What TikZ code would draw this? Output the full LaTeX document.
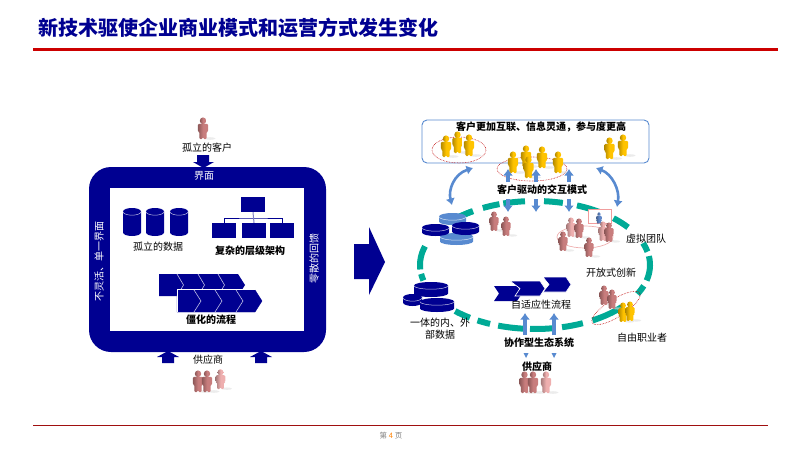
\documentclass[tikz,border=0pt]{standalone}
\usepackage{fontspec}
\usetikzlibrary{arrows.meta}
\setmainfont{Noto Sans CJK SC}
\definecolor{navy}{RGB}{0,0,145}
\definecolor{skyline}{RGB}{88,138,208}
\definecolor{ringteal}{RGB}{0,170,150}
\definecolor{headred}{HTML}{CC0000}
\definecolor{footred}{HTML}{A01010}
\definecolor{redman}{RGB}{200,125,125}
\definecolor{paleman}{RGB}{238,175,175}
\definecolor{goldman}{RGB}{255,195,0}
\definecolor{blueman}{RGB}{95,135,200}
\begin{document}
\begin{tikzpicture}[x=1pt,y=-1pt]
  \useasboundingbox (0,0) rectangle (800,450);

  \tikzset{
    label/.style={font=\fontsize{10}{12}\selectfont,inner sep=0pt,align=center},
    boldlabel/.style={label,font=\fontsize{10}{12}\selectfont\bfseries},
    whitelabel/.style={label,text=white},
    blockarrow/.style={fill=navy},
    boxnode/.style={fill=navy,minimum width=24pt,minimum height=15pt,inner sep=0pt},
    ringseg/.style={draw=ringteal,line width=6pt},
    linkarrow/.style={draw=skyline,line width=3.2pt,-{Latex[length=6.5pt,width=10pt]}},
    bothways/.style={draw=skyline,line width=2.6pt,{Latex[length=6.5pt,width=9.5pt]}-{Latex[length=6.5pt,width=9.5pt]}},
    dotring/.style={draw=red!75!black,densely dotted,line width=.6pt},
    chevline/.style={draw=white!75!navy,line width=.6pt},
    pics/human/.style={code={
      \fill[gray!25,opacity=.6] (7,10.5) ellipse[x radius=5.5,y radius=1.3];
      \path[left color=#1!70!black,right color=#1,middle color=#1]
        (0,-7.2) ellipse[x radius=3.2,y radius=3.4];
      \path[left color=#1!70!black,right color=#1,middle color=#1,rounded corners=1.2pt]
        (-5.2,-4.2) -- (5.2,-4.2) -- (5.2,3.5) -- (3.7,3.5) -- (3.7,11)
        -- (.2,11) -- (.2,4.5) -- (-.2,4.5) -- (-.2,11) -- (-3.7,11)
        -- (-3.7,3.5) -- (-5.2,3.5) -- cycle;
    }},
    pics/drum/.style n args={3}{code={
      \fill[#3] (-#1/2,3.5) -- (-#1/2,#2-3.5)
        arc[start angle=180,end angle=0,x radius=#1/2,y radius=3.5]
        -- (#1/2,3.5) -- cycle;
      \fill[#3] (0,3.5) ellipse[x radius=#1/2,y radius=3.5];
      \draw[white!75!#3,line width=.5pt] (-#1/2,3.7)
        arc[start angle=180,end angle=0,x radius=#1/2,y radius=3.5];
    }}
  }

  % heading and footer
  \node[anchor=west,inner sep=0pt,text=navy,font=\fontsize{20}{24}\selectfont\bfseries] (heading) at (38,28) {新技术驱使企业商业模式和运营方式发生变化};
  \node[inner sep=0pt,text=gray,font=\fontsize{7.5}{9}\selectfont] (pageno) at (391,436) {第 \textcolor{orange}{4} 页};

  % left frame
  \fill[navy,rounded corners=22pt] (89,167) rectangle (326,352);
  \fill[white] (110,188) rectangle (304,331);
  \node[whitelabel] (iface) at (204,176) {界面};
  \node[whitelabel,rotate=90] (rigid) at (99,261) {不灵活、单一界面};
  \node[whitelabel,rotate=90] (scatter) at (314,258) {零散的回馈};

  % lone customer
  \pic at (203,128) {human={redman}};
  \node[label] (lonecust) at (207,148) {孤立的客户};
  \path[blockarrow] (197,155) -- (209,155) -- (209,162) -- (214,162) -- (203.5,168) -- (193,162) -- (197,162) -- cycle;

  % isolated data
  \foreach \x in {132,155,179}
    \pic at (\x,208) {drum={18}{28}{navy}};
  \node[label] (lonedata) at (158,247) {孤立的数据};

  % hierarchy
  \node[boxnode] (orgtop) at (253,204.5) {};
  \node[boxnode] (orga) at (224,230.5) {};
  \node[boxnode] (orgb) at (254,230.5) {};
  \node[boxnode] (orgc) at (282,230.5) {};
  \coordinate (orgmid) at (253.5,218);
  \draw[draw=navy,line width=.8pt] (orga.north) |- (orgmid) -| (orgc.north);
  \draw[draw=white!50!navy,line width=1pt] (orgtop.south) -- (orgb.north);
  \node[boldlabel] (orglabel) at (250,251) {复杂的层级架构};

  % rigid process
  \fill[navy] (159,274) -- (238,274) -- (245,285) -- (238,296) -- (159,296) -- cycle;
  \foreach \x in {177,198,218}
    \draw[chevline] (\x,274) -- (\x+6.5,285) -- (\x,296);
  \draw[draw=navy,fill=navy] (177,290) -- (255,290) -- (262,301) -- (255,312) -- (177,312) -- cycle;
  \draw[draw=white,line width=.8pt] (177,312) -- (177,289.5) -- (255,289.5);
  \foreach \x in {194,215,236}
    \draw[chevline] (\x,290) -- (\x+7,301) -- (\x,312);
  \node[boldlabel] (rigidflow) at (211,320) {僵化的流程};

  % suppliers left
  \foreach \x in {168,261}
    \path[blockarrow] (\x-6,363) -- (\x+6,363) -- (\x+6,357) -- (\x+11,357) -- (\x,351) -- (\x-11,357) -- (\x-6,357) -- cycle;
  \node[label] (supleft) at (208,360) {供应商};
  \pic at (198,381) {human={redman}};
  \pic at (207,381) {human={redman}};
  \pic[scale=.92] at (220.5,379) {human={paleman}};

  % big arrow
  \path[blockarrow] (354,244) -- (369,244) -- (369,227) -- (385,262) -- (369,295) -- (369,279) -- (354,279) -- cycle;

  % teal ring
  \foreach \a/\b in {-8/14,19/27,41/60,65.4/76.4,80/92.5,96/108.7,113/120,124.5/134,166/172,176/197,222/237,-135.5/-122.6,-117/-108,-106/-95,-85.5/-76,-68.6/-51,-47/-36,-20/-12}
    \draw[ringseg] ([shift={(\a:115 and 64)}]535,265) arc[start angle=\a,end angle=\b,x radius=115,y radius=64];

  % customer box
  \node[draw=skyline,fill=white,line width=.9pt,rounded corners=5pt,minimum width=227pt,minimum height=43pt,inner sep=0pt] (custbox) at (535.5,141.5) {};
  \node[boldlabel] (custtext) at (541,127) {客户更加互联、信息灵通，参与度更高};
  \draw[dotring] (459,150) ellipse[x radius=27,y radius=13];
  \draw[dotring] (532,169) ellipse[x radius=35,y radius=12];
  \foreach \x/\y in {446/146,457.5/142,469/145,513/162,526/156,542/157,558/162,528.5/167,609.5/148,623/145}
    \pic at (\x,\y) {human={goldman}};

  % interaction arrows
  \node[boldlabel] (drive) at (542,190) {客户驱动的交互模式};
  \foreach \n/\x in {a/508,b/536,c/569} {
    \coordinate (up\n) at (\x,182);
    \coordinate (ut\n) at (\x,169);
    \coordinate (dn\n) at (\x,199);
    \coordinate (dt\n) at (\x,212);
    \draw[linkarrow] (up\n) -- (ut\n);
    \draw[linkarrow] (dn\n) -- (dt\n);
  }
  \coordinate (lefttop) at (473,168);
  \coordinate (leftlow) at (452,205);
  \coordinate (righttop) at (596,168);
  \coordinate (rightlow) at (617,207);
  \draw[bothways] (lefttop) .. controls (454,174) and (448,190) .. (leftlow);
  \draw[bothways] (righttop) .. controls (612,174) and (620,190) .. (rightlow);

  % integrated data
  \pic at (452.5,213) {drum={27}{12}{skyline}};
  \pic at (456.5,233) {drum={33}{12}{skyline}};
  \pic at (435.5,224) {drum={27}{12}{navy}};
  \pic at (465.5,222) {drum={27}{13}{navy}};
  \pic at (412.5,294) {drum={19}{12}{navy}};
  \pic at (431,282) {drum={34}{15}{navy}};
  \pic at (437,298) {drum={34}{14}{navy}};
  \node[label] (unidata) at (440,329) {一体的内、外\\部数据};

  % virtual team
  \pic[scale=.9] at (494,221) {human={redman}};
  \pic[scale=.9] at (506,226) {human={redman}};
  \draw[draw=paleman,line width=.7pt] (585,237) ellipse[x radius=28,y radius=11];
  \node[draw=paleman!90!red,fill=white,line width=1.2pt,minimum width=23pt,minimum height=14pt,inner sep=0pt] (teambox) at (600,216.5) {};
  \pic[scale=.55] at (599,218) {human={blueman}};
  \pic[scale=.9] at (571,227) {human={paleman}};
  \pic[scale=.9] at (579,228) {human={redman}};
  \pic[scale=.9] at (563,241) {human={redman}};
  \pic[scale=.9] at (589,247) {human={redman}};
  \pic[scale=.9] at (603,231) {human={paleman}};
  \pic[scale=.9] at (609,232) {human={redman}};
  \node[label] (virtual) at (646,239) {虚拟团队};
  \node[label] (openinn) at (611,273) {开放式创新};

  % freelancers
  \draw[dotring,rotate around={32:(616,308)}] (616,308) ellipse[x radius=28,y radius=9];
  \pic[scale=.9] at (604,295) {human={redman}};
  \pic[scale=.9] at (612,299) {human={redman}};
  \pic[scale=.9] at (623,312) {human={goldman}};
  \pic[scale=.9] at (630,311) {human={goldman}};
  \node[label] (freelance) at (642,338) {自由职业者};

  % adaptive process
  \fill[navy] (494,286) -- (517,286) -- (522,293.5) -- (517,301) -- (494,301) -- (499,293.5) -- cycle;
  \draw[draw=white,fill=navy,line width=.6pt] (510,281) -- (540,281) -- (545,288.5) -- (540,296) -- (515,296) -- (520,288.5) -- cycle;
  \draw[draw=white,fill=navy,line width=.6pt] (543,277) -- (566,277) -- (571,284.5) -- (566,292) -- (543,292) -- (549,284.5) -- cycle;
  \node[label] (adaptflow) at (541,305) {自适应性流程};

  % ecosystem and suppliers
  \node[boldlabel] (ecosys) at (539,343) {协作型生态系统};
  \foreach \n/\x in {a/525,b/554} {
    \coordinate (eco\n) at (\x,335);
    \coordinate (flow\n) at (\x,313);
    \draw[linkarrow] (eco\n) -- (flow\n);
  }
  \foreach \x in {526,554}
    \fill[skyline] (\x-2.5,353) -- (\x+2.5,353) -- (\x,358) -- cycle;
  \node[boldlabel] (supright) at (537,367) {供应商};
  \pic at (524.5,382) {human={redman}};
  \pic at (533,382) {human={redman}};
  \pic at (546,382) {human={paleman}};

  % page rules
  \fill[fill=headred] (33,48.4) rectangle (778,50.6);
  \fill[fill=footred] (33,424.8) rectangle (768,426.2);
\end{tikzpicture}
\end{document}
